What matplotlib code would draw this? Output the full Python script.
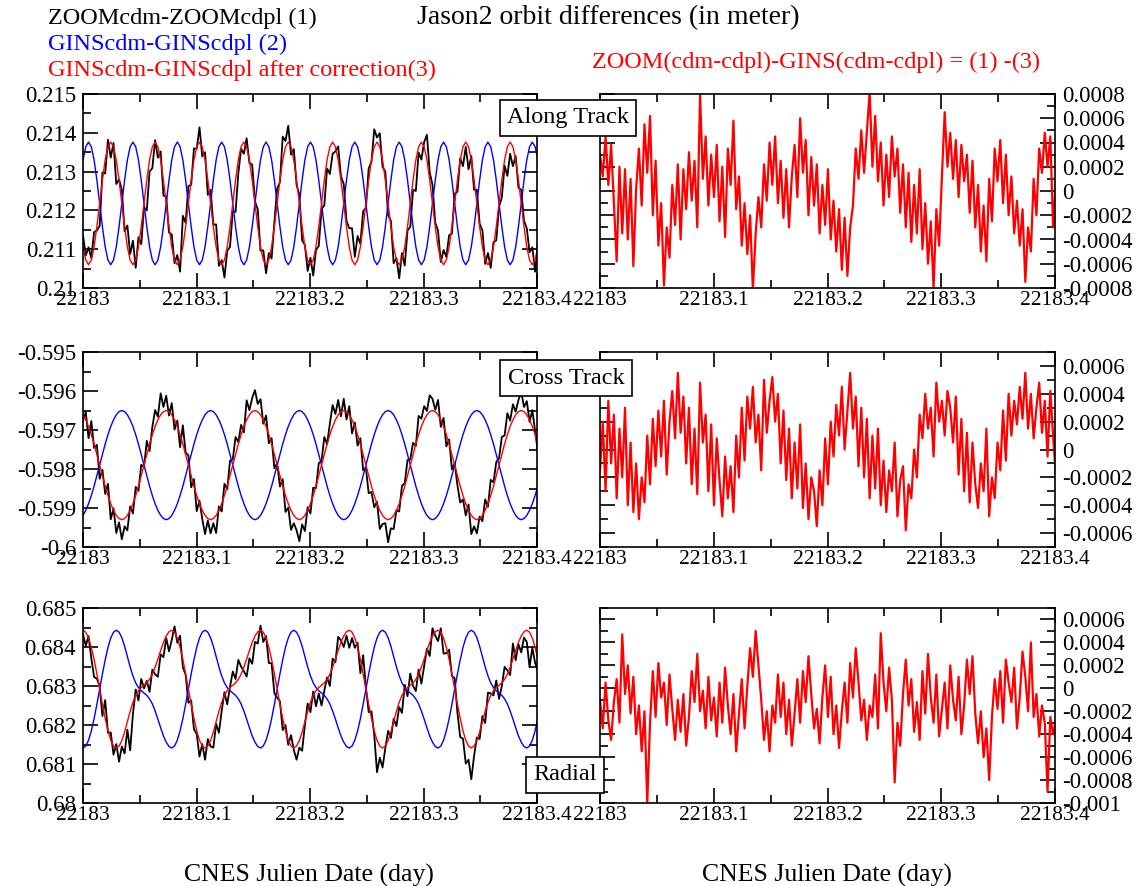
import matplotlib
matplotlib.use('Agg')
import matplotlib.pyplot as plt
import numpy as np
from matplotlib.ticker import MultipleLocator, FormatStrFormatter

plt.rcParams['font.family'] = ['Liberation Serif', 'DejaVu Serif']

# sampling grid (CNES julian day)
days = 22183 + np.arange(165) * 0.00244375

# ---------------- Along Track ----------------
along_zoom = [
    0.21136, 0.21084, 0.21105, 0.21077, 0.21144, 0.21148, 0.21160, 0.21298, 0.21295, 0.21382, 0.21336, 0.21374, 0.21268, 0.21280, 0.21253, 0.21146,
    0.21161, 0.21087, 0.21122, 0.21052, 0.21131, 0.21113, 0.21208, 0.21200, 0.21300, 0.21309, 0.21381, 0.21336, 0.21352, 0.21238, 0.21236, 0.21143,
    0.21138, 0.21064, 0.21085, 0.21042, 0.21186, 0.21168, 0.21263, 0.21266, 0.21360, 0.21359, 0.21414, 0.21339, 0.21350, 0.21240, 0.21253, 0.21163,
    0.21164, 0.21057, 0.21072, 0.21027, 0.21096, 0.21106, 0.21198, 0.21196, 0.21295, 0.21359, 0.21346, 0.21386, 0.21322, 0.21318, 0.21223, 0.21203,
    0.21096, 0.21097, 0.21038, 0.21090, 0.21076, 0.21170, 0.21256, 0.21273, 0.21390, 0.21379, 0.21418, 0.21344, 0.21358, 0.21266, 0.21240, 0.21123,
    0.21111, 0.21044, 0.21078, 0.21032, 0.21098, 0.21108, 0.21203, 0.21213, 0.21308, 0.21294, 0.21346, 0.21352, 0.21365, 0.21288, 0.21268, 0.21173,
    0.21154, 0.21154, 0.21080, 0.21134, 0.21114, 0.21198, 0.21206, 0.21308, 0.21325, 0.21409, 0.21388, 0.21399, 0.21312, 0.21300, 0.21188, 0.21173,
    0.21064, 0.21077, 0.21025, 0.21090, 0.21058, 0.21148, 0.21158, 0.21253, 0.21250, 0.21349, 0.21331, 0.21376, 0.21395, 0.21298, 0.21266, 0.21168,
    0.21148, 0.21067, 0.21098, 0.21080, 0.21136, 0.21140, 0.21243, 0.21248, 0.21335, 0.21314, 0.21364, 0.21306, 0.21340, 0.21253, 0.21253, 0.21166,
    0.21148, 0.21062, 0.21090, 0.21052, 0.21118, 0.21123, 0.21210, 0.21233, 0.21315, 0.21289, 0.21346, 0.21314, 0.21340, 0.21258, 0.21253, 0.21173,
    0.21154, 0.21092, 0.21105, 0.21042, 0.21116]
along_gins = [
    0.21330, 0.21364, 0.21376, 0.21364, 0.21330, 0.21278, 0.21218, 0.21158, 0.21106, 0.21072, 0.21060, 0.21072, 0.21106, 0.21158, 0.21218, 0.21278,
    0.21330, 0.21364, 0.21376, 0.21364, 0.21330, 0.21278, 0.21218, 0.21158, 0.21106, 0.21072, 0.21060, 0.21072, 0.21106, 0.21158, 0.21218, 0.21278,
    0.21330, 0.21364, 0.21376, 0.21364, 0.21330, 0.21278, 0.21218, 0.21158, 0.21106, 0.21072, 0.21060, 0.21072, 0.21106, 0.21158, 0.21218, 0.21278,
    0.21330, 0.21364, 0.21376, 0.21364, 0.21330, 0.21278, 0.21218, 0.21158, 0.21106, 0.21072, 0.21060, 0.21072, 0.21106, 0.21158, 0.21218, 0.21278,
    0.21330, 0.21364, 0.21376, 0.21364, 0.21330, 0.21278, 0.21218, 0.21158, 0.21106, 0.21072, 0.21060, 0.21072, 0.21106, 0.21158, 0.21218, 0.21278,
    0.21330, 0.21364, 0.21376, 0.21364, 0.21330, 0.21278, 0.21218, 0.21158, 0.21106, 0.21072, 0.21060, 0.21072, 0.21106, 0.21158, 0.21218, 0.21278,
    0.21330, 0.21364, 0.21376, 0.21364, 0.21330, 0.21278, 0.21218, 0.21158, 0.21106, 0.21072, 0.21060, 0.21072, 0.21106, 0.21158, 0.21218, 0.21278,
    0.21330, 0.21364, 0.21376, 0.21364, 0.21330, 0.21278, 0.21218, 0.21158, 0.21106, 0.21072, 0.21060, 0.21072, 0.21106, 0.21158, 0.21218, 0.21278,
    0.21330, 0.21364, 0.21376, 0.21364, 0.21330, 0.21278, 0.21218, 0.21158, 0.21106, 0.21072, 0.21060, 0.21072, 0.21106, 0.21158, 0.21218, 0.21278,
    0.21330, 0.21364, 0.21376, 0.21364, 0.21330, 0.21278, 0.21218, 0.21158, 0.21106, 0.21072, 0.21060, 0.21072, 0.21106, 0.21158, 0.21218, 0.21278,
    0.21330, 0.21364, 0.21376, 0.21364, 0.21330]
along_gins_corr = [
    0.21106, 0.21072, 0.21060, 0.21072, 0.21106, 0.21158, 0.21218, 0.21278, 0.21330, 0.21364, 0.21376, 0.21364, 0.21330, 0.21278, 0.21218, 0.21158,
    0.21106, 0.21072, 0.21060, 0.21072, 0.21106, 0.21158, 0.21218, 0.21278, 0.21330, 0.21364, 0.21376, 0.21364, 0.21330, 0.21278, 0.21218, 0.21158,
    0.21106, 0.21072, 0.21060, 0.21072, 0.21106, 0.21158, 0.21218, 0.21278, 0.21330, 0.21364, 0.21376, 0.21364, 0.21330, 0.21278, 0.21218, 0.21158,
    0.21106, 0.21072, 0.21060, 0.21072, 0.21106, 0.21158, 0.21218, 0.21278, 0.21330, 0.21364, 0.21376, 0.21364, 0.21330, 0.21278, 0.21218, 0.21158,
    0.21106, 0.21072, 0.21060, 0.21072, 0.21106, 0.21158, 0.21218, 0.21278, 0.21330, 0.21364, 0.21376, 0.21364, 0.21330, 0.21278, 0.21218, 0.21158,
    0.21106, 0.21072, 0.21060, 0.21072, 0.21106, 0.21158, 0.21218, 0.21278, 0.21330, 0.21364, 0.21376, 0.21364, 0.21330, 0.21278, 0.21218, 0.21158,
    0.21106, 0.21072, 0.21060, 0.21072, 0.21106, 0.21158, 0.21218, 0.21278, 0.21330, 0.21364, 0.21376, 0.21364, 0.21330, 0.21278, 0.21218, 0.21158,
    0.21106, 0.21072, 0.21060, 0.21072, 0.21106, 0.21158, 0.21218, 0.21278, 0.21330, 0.21364, 0.21376, 0.21364, 0.21330, 0.21278, 0.21218, 0.21158,
    0.21106, 0.21072, 0.21060, 0.21072, 0.21106, 0.21158, 0.21218, 0.21278, 0.21330, 0.21364, 0.21376, 0.21364, 0.21330, 0.21278, 0.21218, 0.21158,
    0.21106, 0.21072, 0.21060, 0.21072, 0.21106, 0.21158, 0.21218, 0.21278, 0.21330, 0.21364, 0.21376, 0.21364, 0.21330, 0.21278, 0.21218, 0.21158,
    0.21106, 0.21072, 0.21060, 0.21072, 0.21106]

# ---------------- Cross Track ----------------
cross_zoom = [
    -0.59676, -0.59654, -0.59721, -0.59677, -0.59746, -0.59738, -0.59825, -0.59802, -0.59864, -0.59838, -0.59929, -0.59901, -0.59964, -0.59937, -0.59980, -0.59947,
    -0.59957, -0.59896, -0.59914, -0.59846, -0.59856, -0.59789, -0.59795, -0.59728, -0.59754, -0.59692, -0.59649, -0.59666, -0.59606, -0.59641, -0.59612, -0.59663,
    -0.59631, -0.59699, -0.59676, -0.59744, -0.59688, -0.59758, -0.59765, -0.59847, -0.59826, -0.59908, -0.59881, -0.59928, -0.59967, -0.59932, -0.59965, -0.59939,
    -0.59964, -0.59896, -0.59909, -0.59838, -0.59852, -0.59779, -0.59775, -0.59718, -0.59731, -0.59687, -0.59706, -0.59624, -0.59649, -0.59618, -0.59598, -0.59633,
    -0.59621, -0.59684, -0.59663, -0.59734, -0.59721, -0.59798, -0.59785, -0.59845, -0.59826, -0.59910, -0.59899, -0.59956, -0.59939, -0.59957, -0.59985, -0.59942,
    -0.59959, -0.59898, -0.59914, -0.59848, -0.59849, -0.59785, -0.59780, -0.59718, -0.59736, -0.59684, -0.59636, -0.59659, -0.59623, -0.59665, -0.59620, -0.59673,
    -0.59639, -0.59709, -0.59681, -0.59740, -0.59721, -0.59803, -0.59798, -0.59862, -0.59859, -0.59898, -0.59884, -0.59954, -0.59941, -0.59939, -0.59988, -0.59952,
    -0.59954, -0.59906, -0.59909, -0.59843, -0.59836, -0.59777, -0.59775, -0.59733, -0.59741, -0.59664, -0.59671, -0.59639, -0.59651, -0.59611, -0.59620, -0.59648,
    -0.59623, -0.59692, -0.59669, -0.59742, -0.59724, -0.59801, -0.59785, -0.59842, -0.59886, -0.59878, -0.59919, -0.59891, -0.59967, -0.59947, -0.59965, -0.59922,
    -0.59934, -0.59878, -0.59897, -0.59828, -0.59834, -0.59782, -0.59772, -0.59718, -0.59714, -0.59657, -0.59676, -0.59634, -0.59653, -0.59623, -0.59602, -0.59641,
    -0.59626, -0.59679, -0.59649, -0.59702, -0.59756]
cross_gins = [
    -0.59919, -0.59906, -0.59889, -0.59868, -0.59844, -0.59817, -0.59790, -0.59763, -0.59736, -0.59712, -0.59691, -0.59674, -0.59661, -0.59653, -0.59650, -0.59653,
    -0.59661, -0.59674, -0.59691, -0.59712, -0.59736, -0.59763, -0.59790, -0.59817, -0.59844, -0.59868, -0.59889, -0.59906, -0.59919, -0.59927, -0.59930, -0.59927,
    -0.59919, -0.59906, -0.59889, -0.59868, -0.59844, -0.59817, -0.59790, -0.59763, -0.59736, -0.59712, -0.59691, -0.59674, -0.59661, -0.59653, -0.59650, -0.59653,
    -0.59661, -0.59674, -0.59691, -0.59712, -0.59736, -0.59763, -0.59790, -0.59817, -0.59844, -0.59868, -0.59889, -0.59906, -0.59919, -0.59927, -0.59930, -0.59927,
    -0.59919, -0.59906, -0.59889, -0.59868, -0.59844, -0.59817, -0.59790, -0.59763, -0.59736, -0.59712, -0.59691, -0.59674, -0.59661, -0.59653, -0.59650, -0.59653,
    -0.59661, -0.59674, -0.59691, -0.59712, -0.59736, -0.59763, -0.59790, -0.59817, -0.59844, -0.59868, -0.59889, -0.59906, -0.59919, -0.59927, -0.59930, -0.59927,
    -0.59919, -0.59906, -0.59889, -0.59868, -0.59844, -0.59817, -0.59790, -0.59763, -0.59736, -0.59712, -0.59691, -0.59674, -0.59661, -0.59653, -0.59650, -0.59653,
    -0.59661, -0.59674, -0.59691, -0.59712, -0.59736, -0.59763, -0.59790, -0.59817, -0.59844, -0.59868, -0.59889, -0.59906, -0.59919, -0.59927, -0.59930, -0.59927,
    -0.59919, -0.59906, -0.59889, -0.59868, -0.59844, -0.59817, -0.59790, -0.59763, -0.59736, -0.59712, -0.59691, -0.59674, -0.59661, -0.59653, -0.59650, -0.59653,
    -0.59661, -0.59674, -0.59691, -0.59712, -0.59736, -0.59763, -0.59790, -0.59817, -0.59844, -0.59868, -0.59889, -0.59906, -0.59919, -0.59927, -0.59930, -0.59927,
    -0.59919, -0.59906, -0.59889, -0.59868, -0.59844]
cross_gins_corr = [
    -0.59661, -0.59674, -0.59691, -0.59712, -0.59736, -0.59763, -0.59790, -0.59817, -0.59844, -0.59868, -0.59889, -0.59906, -0.59919, -0.59927, -0.59930, -0.59927,
    -0.59919, -0.59906, -0.59889, -0.59868, -0.59844, -0.59817, -0.59790, -0.59763, -0.59736, -0.59712, -0.59691, -0.59674, -0.59661, -0.59653, -0.59650, -0.59653,
    -0.59661, -0.59674, -0.59691, -0.59712, -0.59736, -0.59763, -0.59790, -0.59817, -0.59844, -0.59868, -0.59889, -0.59906, -0.59919, -0.59927, -0.59930, -0.59927,
    -0.59919, -0.59906, -0.59889, -0.59868, -0.59844, -0.59817, -0.59790, -0.59763, -0.59736, -0.59712, -0.59691, -0.59674, -0.59661, -0.59653, -0.59650, -0.59653,
    -0.59661, -0.59674, -0.59691, -0.59712, -0.59736, -0.59763, -0.59790, -0.59817, -0.59844, -0.59868, -0.59889, -0.59906, -0.59919, -0.59927, -0.59930, -0.59927,
    -0.59919, -0.59906, -0.59889, -0.59868, -0.59844, -0.59817, -0.59790, -0.59763, -0.59736, -0.59712, -0.59691, -0.59674, -0.59661, -0.59653, -0.59650, -0.59653,
    -0.59661, -0.59674, -0.59691, -0.59712, -0.59736, -0.59763, -0.59790, -0.59817, -0.59844, -0.59868, -0.59889, -0.59906, -0.59919, -0.59927, -0.59930, -0.59927,
    -0.59919, -0.59906, -0.59889, -0.59868, -0.59844, -0.59817, -0.59790, -0.59763, -0.59736, -0.59712, -0.59691, -0.59674, -0.59661, -0.59653, -0.59650, -0.59653,
    -0.59661, -0.59674, -0.59691, -0.59712, -0.59736, -0.59763, -0.59790, -0.59817, -0.59844, -0.59868, -0.59889, -0.59906, -0.59919, -0.59927, -0.59930, -0.59927,
    -0.59919, -0.59906, -0.59889, -0.59868, -0.59844, -0.59817, -0.59790, -0.59763, -0.59736, -0.59712, -0.59691, -0.59674, -0.59661, -0.59653, -0.59650, -0.59653,
    -0.59661, -0.59674, -0.59691, -0.59712, -0.59736]

# ---------------- Radial ----------------
radial_zoom = [
    0.68433, 0.68403, 0.68428, 0.68371, 0.68323, 0.68319, 0.68300, 0.68223, 0.68264, 0.68180, 0.68181, 0.68124, 0.68151, 0.68106, 0.68145, 0.68127,
    0.68188, 0.68135, 0.68228, 0.68291, 0.68263, 0.68318, 0.68294, 0.68313, 0.68285, 0.68342, 0.68330, 0.68324, 0.68381, 0.68374, 0.68423, 0.68389,
    0.68418, 0.68453, 0.68411, 0.68429, 0.68348, 0.68329, 0.68257, 0.68263, 0.68189, 0.68177, 0.68119, 0.68151, 0.68111, 0.68164, 0.68145, 0.68142,
    0.68203, 0.68180, 0.68236, 0.68284, 0.68253, 0.68298, 0.68337, 0.68318, 0.68367, 0.68350, 0.68338, 0.68324, 0.68371, 0.68357, 0.68413, 0.68409,
    0.68455, 0.68413, 0.68428, 0.68359, 0.68358, 0.68281, 0.68270, 0.68261, 0.68187, 0.68200, 0.68149, 0.68174, 0.68136, 0.68111, 0.68142, 0.68134,
    0.68200, 0.68255, 0.68233, 0.68286, 0.68248, 0.68281, 0.68250, 0.68288, 0.68322, 0.68300, 0.68370, 0.68361, 0.68426, 0.68417, 0.68400, 0.68429,
    0.68398, 0.68423, 0.68398, 0.68411, 0.68333, 0.68379, 0.68297, 0.68233, 0.68235, 0.68175, 0.68079, 0.68116, 0.68091, 0.68141, 0.68185, 0.68167,
    0.68216, 0.68197, 0.68246, 0.68231, 0.68303, 0.68274, 0.68332, 0.68300, 0.68287, 0.68342, 0.68306, 0.68351, 0.68396, 0.68377, 0.68448, 0.68429,
    0.68415, 0.68448, 0.68383, 0.68384, 0.68393, 0.68326, 0.68320, 0.68231, 0.68169, 0.68165, 0.68101, 0.68111, 0.68061, 0.68121, 0.68168, 0.68164,
    0.68223, 0.68205, 0.68283, 0.68281, 0.68276, 0.68314, 0.68267, 0.68300, 0.68349, 0.68340, 0.68328, 0.68409, 0.68366, 0.68407, 0.68386, 0.68424,
    0.68413, 0.68348, 0.68398, 0.68359, 0.68340]
radial_gins = [
    0.68141, 0.68146, 0.68161, 0.68185, 0.68216, 0.68253, 0.68292, 0.68331, 0.68367, 0.68399, 0.68423, 0.68438, 0.68443, 0.68438, 0.68424, 0.68402,
    0.68376, 0.68349, 0.68326, 0.68308, 0.68296, 0.68288, 0.68282, 0.68276, 0.68267, 0.68254, 0.68236, 0.68215, 0.68193, 0.68172, 0.68156, 0.68145,
    0.68141, 0.68146, 0.68161, 0.68185, 0.68216, 0.68253, 0.68292, 0.68331, 0.68367, 0.68399, 0.68423, 0.68438, 0.68443, 0.68438, 0.68424, 0.68402,
    0.68376, 0.68349, 0.68326, 0.68308, 0.68296, 0.68288, 0.68282, 0.68276, 0.68267, 0.68254, 0.68236, 0.68215, 0.68193, 0.68172, 0.68156, 0.68145,
    0.68141, 0.68146, 0.68161, 0.68185, 0.68216, 0.68253, 0.68292, 0.68331, 0.68367, 0.68399, 0.68423, 0.68438, 0.68443, 0.68438, 0.68424, 0.68402,
    0.68376, 0.68349, 0.68326, 0.68308, 0.68296, 0.68288, 0.68282, 0.68276, 0.68267, 0.68254, 0.68236, 0.68215, 0.68193, 0.68172, 0.68156, 0.68145,
    0.68141, 0.68146, 0.68161, 0.68185, 0.68216, 0.68253, 0.68292, 0.68331, 0.68367, 0.68399, 0.68423, 0.68438, 0.68443, 0.68438, 0.68424, 0.68402,
    0.68376, 0.68349, 0.68326, 0.68308, 0.68296, 0.68288, 0.68282, 0.68276, 0.68267, 0.68254, 0.68236, 0.68215, 0.68193, 0.68172, 0.68156, 0.68145,
    0.68141, 0.68146, 0.68161, 0.68185, 0.68216, 0.68253, 0.68292, 0.68331, 0.68367, 0.68399, 0.68423, 0.68438, 0.68443, 0.68438, 0.68424, 0.68402,
    0.68376, 0.68349, 0.68326, 0.68308, 0.68296, 0.68288, 0.68282, 0.68276, 0.68267, 0.68254, 0.68236, 0.68215, 0.68193, 0.68172, 0.68156, 0.68145,
    0.68141, 0.68146, 0.68161, 0.68185, 0.68216]
radial_gins_corr = [
    0.68443, 0.68438, 0.68423, 0.68399, 0.68368, 0.68331, 0.68292, 0.68253, 0.68217, 0.68185, 0.68161, 0.68146, 0.68141, 0.68146, 0.68160, 0.68182,
    0.68208, 0.68235, 0.68258, 0.68276, 0.68288, 0.68296, 0.68302, 0.68308, 0.68317, 0.68330, 0.68348, 0.68369, 0.68391, 0.68412, 0.68428, 0.68439,
    0.68443, 0.68438, 0.68423, 0.68399, 0.68368, 0.68331, 0.68292, 0.68253, 0.68217, 0.68185, 0.68161, 0.68146, 0.68141, 0.68146, 0.68160, 0.68182,
    0.68208, 0.68235, 0.68258, 0.68276, 0.68288, 0.68296, 0.68302, 0.68308, 0.68317, 0.68330, 0.68348, 0.68369, 0.68391, 0.68412, 0.68428, 0.68439,
    0.68443, 0.68438, 0.68423, 0.68399, 0.68368, 0.68331, 0.68292, 0.68253, 0.68217, 0.68185, 0.68161, 0.68146, 0.68141, 0.68146, 0.68160, 0.68182,
    0.68208, 0.68235, 0.68258, 0.68276, 0.68288, 0.68296, 0.68302, 0.68308, 0.68317, 0.68330, 0.68348, 0.68369, 0.68391, 0.68412, 0.68428, 0.68439,
    0.68443, 0.68438, 0.68423, 0.68399, 0.68368, 0.68331, 0.68292, 0.68253, 0.68217, 0.68185, 0.68161, 0.68146, 0.68141, 0.68146, 0.68160, 0.68182,
    0.68208, 0.68235, 0.68258, 0.68276, 0.68288, 0.68296, 0.68302, 0.68308, 0.68317, 0.68330, 0.68348, 0.68369, 0.68391, 0.68412, 0.68428, 0.68439,
    0.68443, 0.68438, 0.68423, 0.68399, 0.68368, 0.68331, 0.68292, 0.68253, 0.68217, 0.68185, 0.68161, 0.68146, 0.68141, 0.68146, 0.68160, 0.68182,
    0.68208, 0.68235, 0.68258, 0.68276, 0.68288, 0.68296, 0.68302, 0.68308, 0.68317, 0.68330, 0.68348, 0.68369, 0.68391, 0.68412, 0.68428, 0.68439,
    0.68443, 0.68438, 0.68423, 0.68399, 0.68368]

left_ylims = [(0.21, 0.215), (-0.6, -0.595), (0.68, 0.685)]
right_ylims = [(-0.0008, 0.0008), (-0.0007, 0.0007), (-0.001, 0.0007)]
components = ['Along Track', 'Cross Track', 'Radial']

W, H = 1143, 886


def frac(x0, y0, x1, y1):
    return [x0 / W, 1 - y1 / H, (x1 - x0) / W, (y1 - y0) / H]


def style_axis(ax):
    ax.set_xlim(22183, 22183.4)
    ax.xaxis.set_major_locator(MultipleLocator(0.1))
    ax.xaxis.set_minor_locator(MultipleLocator(0.05))
    ax.xaxis.set_major_formatter(FormatStrFormatter('%g'))
    ax.tick_params(which='both', direction='in', top=True, bottom=True, left=True, right=True, width=1.2)
    ax.tick_params(which='major', length=11)
    ax.tick_params(which='minor', length=6)
    ax.tick_params(axis='x', labelsize=15.5, pad=2)
    ax.tick_params(axis='y', labelsize=16.5, pad=5)
    for s in ax.spines.values():
        s.set_linewidth(1.2)


def view_left(ax, zoom, gins, gins_corr, ylim):
    ax.plot(days, zoom, color='black', lw=1.3)
    ax.plot(days, gins, color='#0000ff', lw=1.0)
    ax.plot(days, gins_corr, color='#ff0000', lw=1.0)
    style_axis(ax)
    ax.set_ylim(*ylim)
    ax.yaxis.set_major_locator(MultipleLocator(0.001))
    ax.yaxis.set_minor_locator(MultipleLocator(0.0005))
    ax.yaxis.set_major_formatter(FormatStrFormatter('%g'))


def view_right(ax, zoom, gins_corr, ylim):
    diff = np.array(zoom) - np.array(gins_corr)   # (1) - (3)
    ax.plot(days, diff, color='#ff0000', lw=1.6)
    style_axis(ax)
    ax.set_ylim(*ylim)
    ax.yaxis.set_major_locator(MultipleLocator(0.0002))
    ax.yaxis.set_minor_locator(MultipleLocator(0.0001))
    ax.yaxis.set_major_formatter(FormatStrFormatter('%g'))
    ax.tick_params(axis='y', labelleft=False, labelright=True)


fig = plt.figure(figsize=(11.43, 8.86), dpi=100)

rows = [(94, 288), (352, 547), (608, 803)]
series = [(along_zoom, along_gins, along_gins_corr),
          (cross_zoom, cross_gins, cross_gins_corr),
          (radial_zoom, radial_gins, radial_gins_corr)]

for i, (top, bottom) in enumerate(rows):
    z, g, gc = series[i]
    axl = fig.add_axes(frac(83, top, 537, bottom))
    view_left(axl, z, g, gc, left_ylims[i])
    axr = fig.add_axes(frac(600, top, 1055, bottom))
    view_right(axr, z, gc, right_ylims[i])

box = dict(boxstyle='square,pad=0.3', fc='white', ec='black', lw=1.2)
fig.text(568 / W, 1 - 118 / H, components[0], ha='center', va='center', fontsize=17.5, bbox=box)
fig.text(566 / W, 1 - 378 / H, components[1], ha='center', va='center', fontsize=17.5, bbox=box)
fig.text(565 / W, 1 - 775 / H, components[2], ha='center', va='center', fontsize=17.5, bbox=box)

fig.text(48 / W, 1 - 18 / H, 'ZOOMcdm-ZOOMcdpl (1)', color='black', fontsize=17.5, va='center')
fig.text(48 / W, 1 - 44 / H, 'GINScdm-GINScdpl (2)', color='#0000ff', fontsize=17.5, va='center')
fig.text(48 / W, 1 - 70 / H, 'GINScdm-GINScdpl after correction(3)', color='#ff0000', fontsize=17.5, va='center')
fig.text(608 / W, 1 - 18 / H, 'Jason2 orbit differences (in meter)', ha='center', va='center', fontsize=20)
fig.text(816 / W, 1 - 62 / H, 'ZOOM(cdm-cdpl)-GINS(cdm-cdpl) = (1) -(3)', color='#ff0000', ha='center', va='center', fontsize=17.5)
fig.text(309 / W, 1 - 875 / H, 'CNES Julien Date (day)', ha='center', va='center', fontsize=18.5)
fig.text(827 / W, 1 - 875 / H, 'CNES Julien Date (day)', ha='center', va='center', fontsize=18.5)

fig.savefig('out.png', dpi=100)
